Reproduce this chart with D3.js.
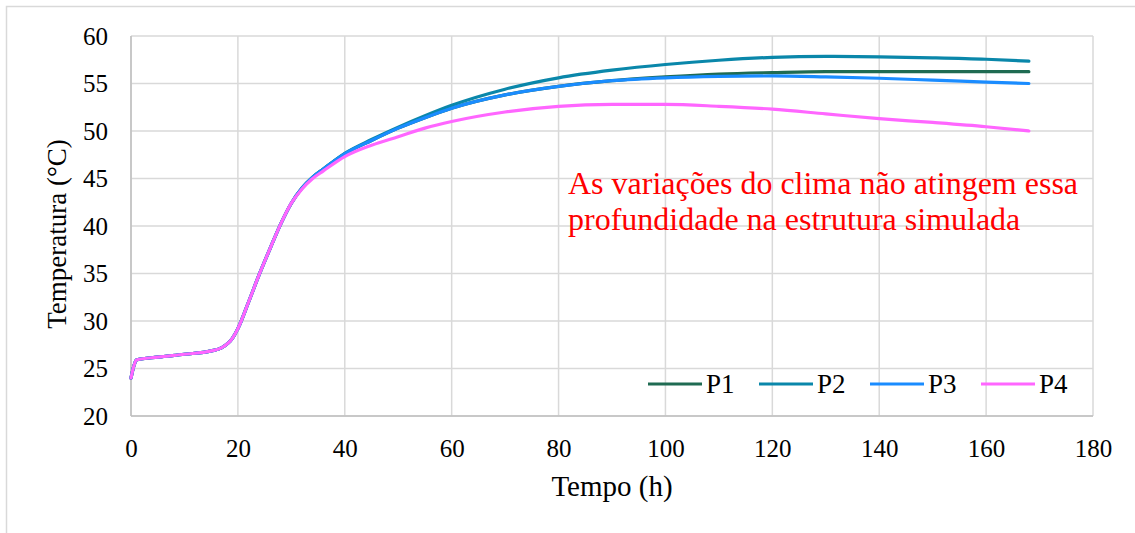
<!DOCTYPE html>
<html>
<head>
<meta charset="utf-8">
<script src="https://cdn.jsdelivr.net/npm/d3@7"></script>
<style>
  html, body { margin: 0; padding: 0; background: #fff; }
  svg { display: block; }
</style>
</head>
<body>
<svg id="chart" width="1135" height="533"></svg>
<script>
// Time (h) at which each temperature was sampled
const hours = [0, 0.5, 1, 5, 10, 15, 17, 19, 20, 22, 24, 26, 28, 30, 32, 34, 36, 40, 45, 50, 55, 60, 70, 80, 90, 100, 110, 120, 130, 140, 150, 160, 168];

// Temperature (°C) for each probe
const p1 = [24.0, 25.2, 25.9, 26.2, 26.5, 26.85, 27.2, 28.2, 29.2, 32.0, 34.9, 37.6, 40.2, 42.4, 44.0, 45.15, 46.0, 47.6, 49.0, 50.3, 51.4, 52.4, 53.8, 54.7, 55.3, 55.7, 56.0, 56.15, 56.25, 56.25, 56.25, 56.25, 56.25];
const p2 = [24.0, 25.2, 25.9, 26.2, 26.5, 26.85, 27.2, 28.2, 29.2, 32.0, 34.9, 37.6, 40.2, 42.4, 44.0, 45.15, 46.0, 47.65, 49.1, 50.4, 51.6, 52.7, 54.4, 55.6, 56.4, 57.0, 57.45, 57.75, 57.85, 57.8, 57.7, 57.55, 57.35];
const p3 = [24.0, 25.2, 25.9, 26.2, 26.5, 26.85, 27.2, 28.2, 29.2, 32.0, 34.9, 37.6, 40.2, 42.4, 44.0, 45.15, 46.0, 47.6, 49.0, 50.3, 51.4, 52.4, 53.8, 54.7, 55.3, 55.6, 55.75, 55.8, 55.7, 55.55, 55.35, 55.15, 55.0];
const p4 = [24.0, 25.2, 25.9, 26.2, 26.5, 26.85, 27.2, 28.2, 29.2, 32.0, 34.9, 37.6, 40.2, 42.4, 43.9, 45.0, 45.8, 47.3, 48.5, 49.4, 50.3, 51.0, 52.0, 52.6, 52.8, 52.8, 52.6, 52.3, 51.8, 51.3, 50.9, 50.45, 50.0];

const seriesNames = ["P1", "P2", "P3", "P4"];
const seriesValues = [p1, p2, p3, p4];
const seriesColors = ["#1f6b52", "#0a87aa", "#1a8cff", "#ff66ff"];

const xTicks = [0, 20, 40, 60, 80, 100, 120, 140, 160, 180];
const yTicks = [20, 25, 30, 35, 40, 45, 50, 55, 60];

const noteLines = ["As variações do clima não atingem essa", "profundidade na estrutura simulada"];

const FONT = "'Liberation Serif'";

const svg = d3.select("#chart");

// Outer chart frame (top and left edges visible)
svg.append("path")
  .attr("d", "M6.5,533 L6.5,6.5 L1135,6.5")
  .attr("fill", "none")
  .attr("stroke", "#d9d9d9")
  .attr("stroke-width", 1.5);

const plot = { left: 131, right: 1093, top: 36, bottom: 416 };

const x = d3.scaleLinear().domain([0, 180]).range([plot.left, plot.right]);
const y = d3.scaleLinear().domain([20, 60]).range([plot.bottom, plot.top]);

// Grid lines
const grid = svg.append("g");
grid.selectAll("line.v").data(xTicks).join("line")
  .attr("x1", d => x(d)).attr("x2", d => x(d))
  .attr("y1", plot.top).attr("y2", plot.bottom)
  .attr("stroke", "#d9d9d9").attr("stroke-width", 1.5);
grid.selectAll("line.h").data(yTicks).join("line")
  .attr("x1", plot.left).attr("x2", plot.right)
  .attr("y1", d => y(d)).attr("y2", d => y(d))
  .attr("stroke", "#d9d9d9").attr("stroke-width", 1.5);

// Axis lines
svg.append("line")
  .attr("x1", plot.left).attr("x2", plot.right)
  .attr("y1", plot.bottom).attr("y2", plot.bottom)
  .attr("stroke", "#bfbfbf").attr("stroke-width", 1.5);
svg.append("line")
  .attr("x1", plot.left).attr("x2", plot.left)
  .attr("y1", plot.top).attr("y2", plot.bottom)
  .attr("stroke", "#bfbfbf").attr("stroke-width", 1.5);

// Axes (tick labels only)
const xAxis = svg.append("g")
  .attr("transform", `translate(0,${plot.bottom})`)
  .call(d3.axisBottom(x).tickValues(xTicks).tickSize(0).tickPadding(23));
const yAxis = svg.append("g")
  .attr("transform", `translate(${plot.left},0)`)
  .call(d3.axisLeft(y).tickValues(yTicks).tickSize(0).tickPadding(23));
[xAxis, yAxis].forEach(a => {
  a.attr("font-family", null).attr("font-size", null);
  a.select(".domain").remove();
  a.selectAll("text")
    .style("font-family", FONT)
    .style("font-size", "25px")
    .attr("fill", "#000");
});

// Axis titles
svg.append("text")
  .attr("x", x(90)).attr("y", 496)
  .attr("text-anchor", "middle")
  .style("font-family", FONT).style("font-size", "29px")
  .attr("fill", "#000")
  .text("Tempo (h)");
svg.append("text")
  .attr("transform", "translate(66,234) rotate(-90)")
  .attr("text-anchor", "middle")
  .style("font-family", FONT).style("font-size", "27px")
  .attr("fill", "#000")
  .text("Temperatura (°C)");

// Temperature curves, drawn in series order so P4 sits on top
const line = d3.line()
  .x(d => x(d[0]))
  .y(d => y(d[1]))
  .curve(d3.curveMonotoneX);

svg.append("g").selectAll("path").data(seriesValues).join("path")
  .attr("d", vals => line(hours.map((h, k) => [h, vals[k]])))
  .attr("fill", "none")
  .attr("stroke", (d, i) => seriesColors[i])
  .attr("stroke-width", 3.2)
  .attr("stroke-linecap", "round")
  .attr("stroke-linejoin", "round");

// Legend
const legend = svg.append("g");
const legendX = [648, 759, 870, 981];
seriesNames.forEach((name, i) => {
  const g = legend.append("g").attr("transform", `translate(${legendX[i]},384)`);
  g.append("line")
    .attr("x1", 0).attr("x2", 54).attr("y1", 0).attr("y2", 0)
    .attr("stroke", seriesColors[i]).attr("stroke-width", 3.2);
  g.append("text")
    .attr("x", 58).attr("y", 9)
    .style("font-family", FONT).style("font-size", "27px")
    .attr("fill", "#000")
    .text(name);
});

// Annotation
svg.append("g").selectAll("text").data(noteLines).join("text")
  .attr("x", 568)
  .attr("y", (d, i) => 194 + i * 36)
  .style("font-family", FONT).style("font-size", "32px")
  .attr("fill", "#ff0000")
  .text(d => d);
</script>
</body>
</html>
